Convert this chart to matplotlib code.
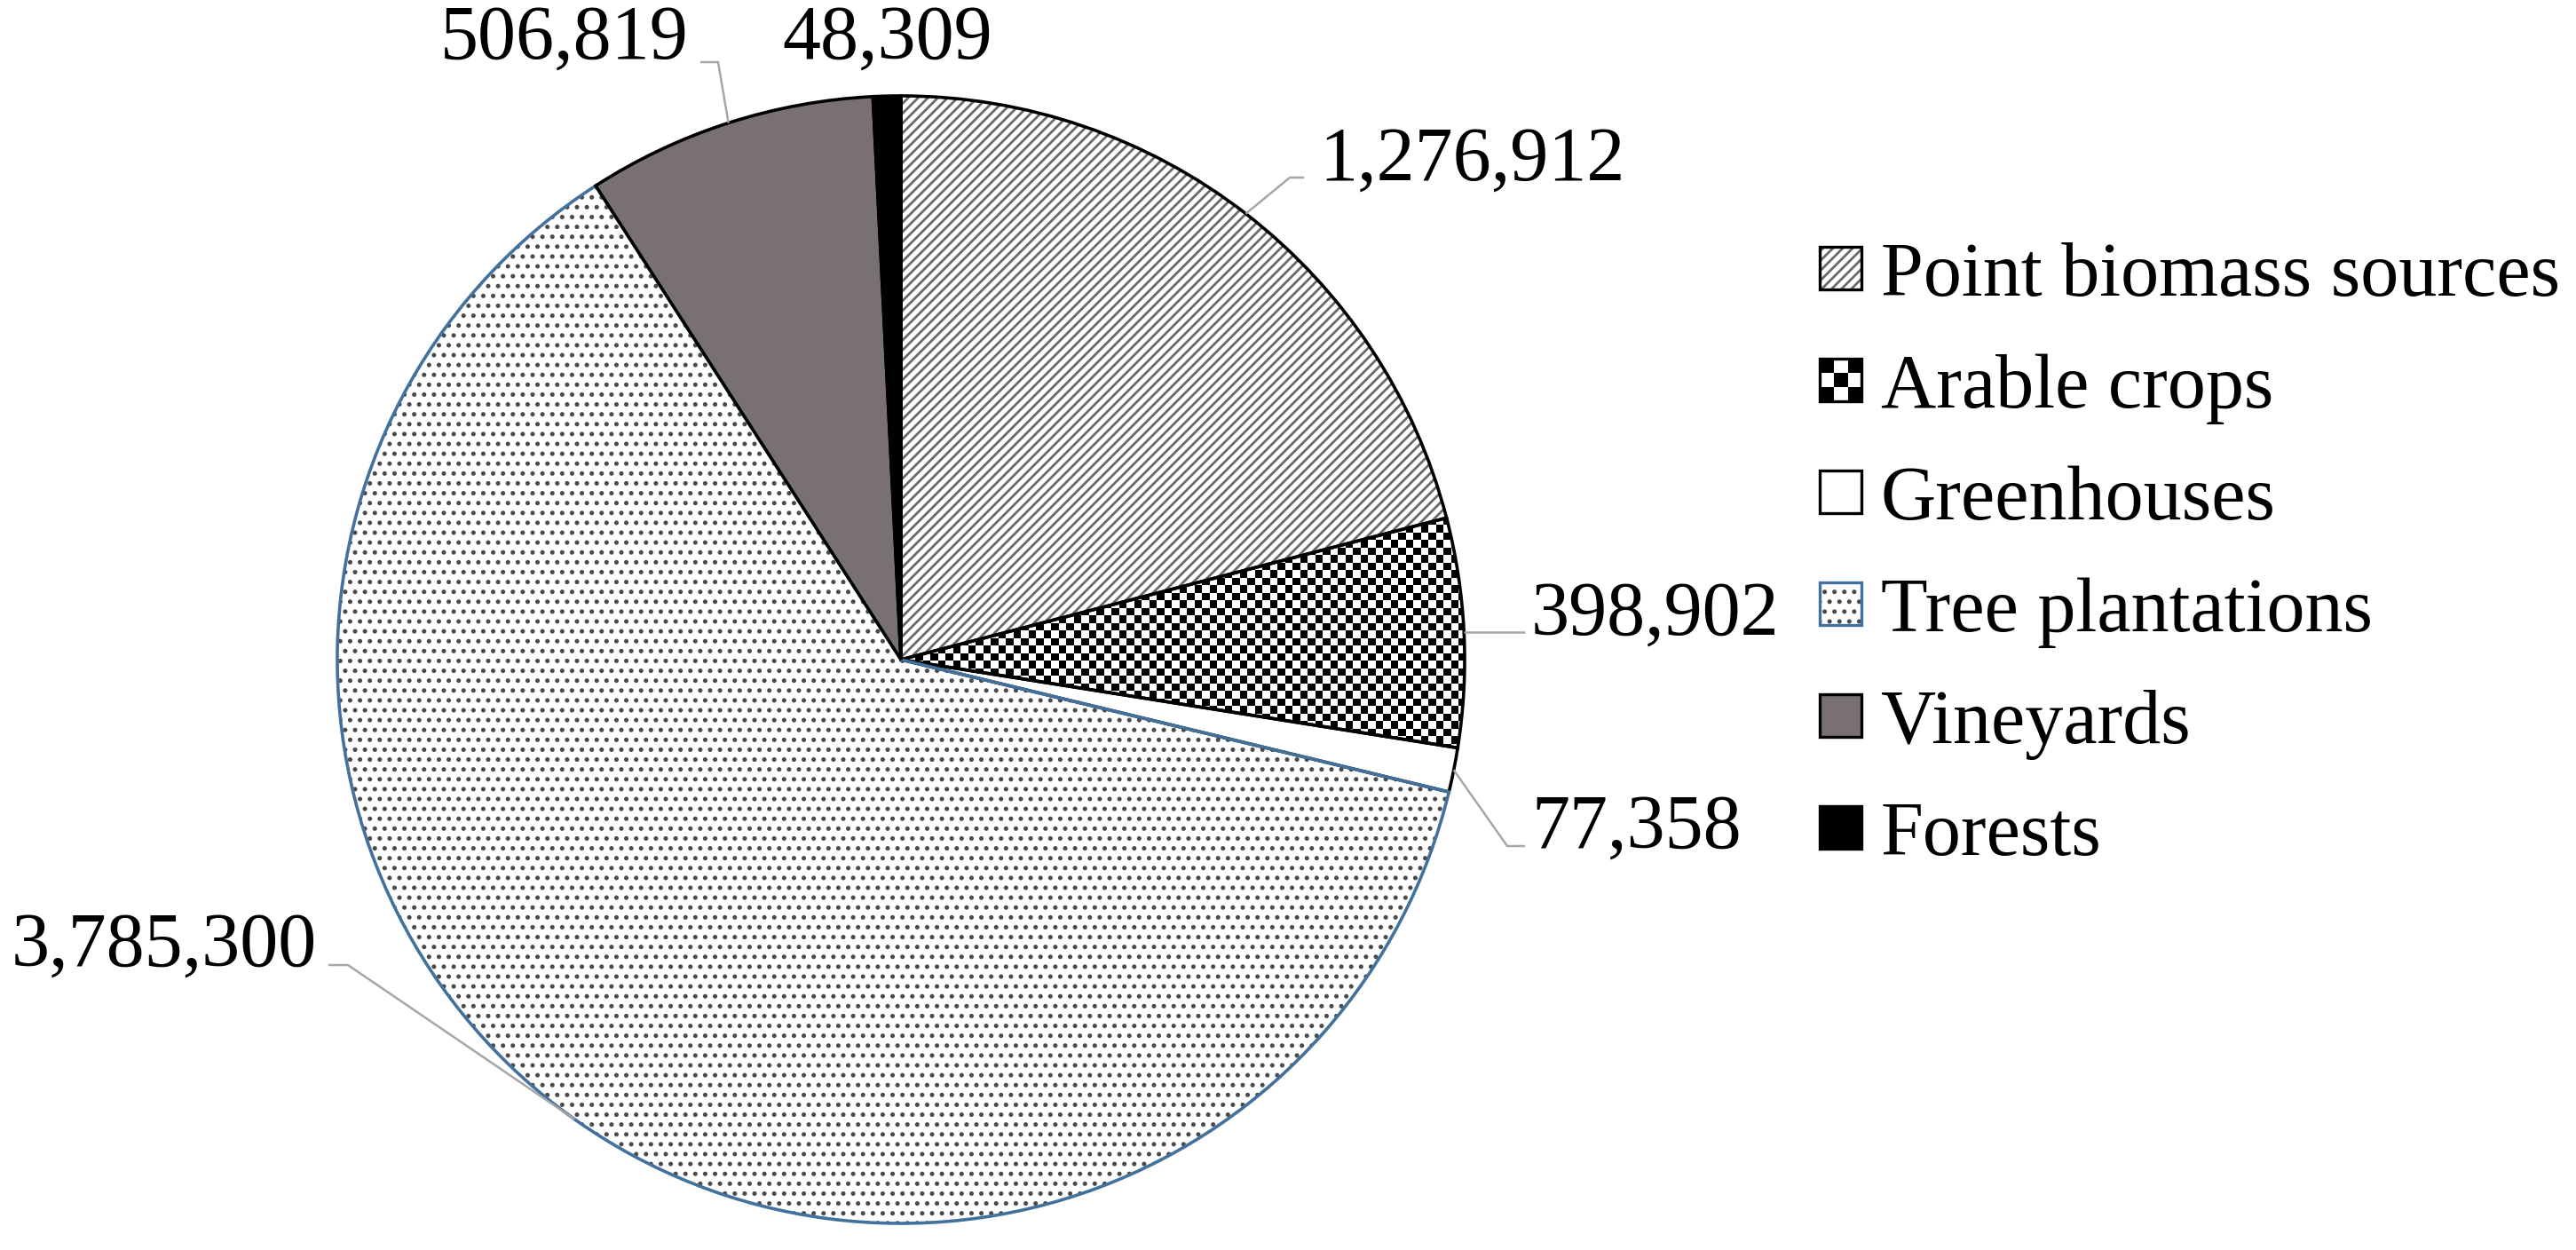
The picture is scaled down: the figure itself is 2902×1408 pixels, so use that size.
import numpy as np
import matplotlib
matplotlib.use("Agg")
import matplotlib.pyplot as plt
from matplotlib.patches import Rectangle, Patch
from matplotlib.legend_handler import HandlerBase

# ---------------- data ----------------
categories = ["Point biomass sources", "Arable crops", "Greenhouses",
              "Tree plantations", "Vineyards", "Forests"]
values = [1276912, 398902, 77358, 3785300, 506819, 48309]
value_labels = ["1,276,912", "398,902", "77,358", "3,785,300", "506,819", "48,309"]

# ---------------- styles ----------------
face_colors = ["white", "white", "white", "white", "#787072", "black"]
hatch_colors = ["#6a6a6a", "white", "white", "#4a4a4a", "#787072", "black"]
hatches = ["//////", None, None, "...", None, None]
edge_colors = ["black", "black", "black", "#41719C", "black", "black"]
checker_index = 1  # arable crops get a checkerboard fill

plt.rcParams["font.family"] = ["Liberation Serif", "DejaVu Serif"]
plt.rcParams["hatch.linewidth"] = 1.0

W, H, DPI = 2902, 1408, 200
fig = plt.figure(figsize=(W / DPI, H / DPI), dpi=DPI)
ax = fig.add_axes([0, 0, 1, 1])

CX, CY, R = 1015, 743, 635  # pie centre / radius in pixels


def px(x, y):
    return ((x - CX) / R, (CY - y) / R)


# fill layer (hatch colour comes from edge colour, so no outline here)
fill_wedges, _ = ax.pie(values, startangle=90, counterclock=False,
                        colors=face_colors, wedgeprops=dict(linewidth=0))
for w, hc, h in zip(fill_wedges, hatch_colors, hatches):
    w.set_edgecolor(hc)
    w.set_linewidth(0)
    w.set_zorder(1)
    if h:
        w.set_hatch(h)

# checkerboard texture clipped to the arable-crops wedge
sq = 8.5 / R
n = int(np.ceil(2.2 / sq))
board = (np.add.outer(np.arange(n), np.arange(n)) % 2).astype(float)
im = ax.imshow(board, cmap="gray", vmin=0, vmax=1, interpolation="nearest",
               extent=(-1.1, -1.1 + n * sq, -1.1, -1.1 + n * sq), zorder=1.5)
im.set_clip_path(fill_wedges[checker_index])

# outline layer
line_wedges, _ = ax.pie(values, startangle=90, counterclock=False,
                        wedgeprops=dict(fill=False, linewidth=1.3))
for w, ec in zip(line_wedges, edge_colors):
    w.set_edgecolor(ec)
    w.set_zorder(2)

# ---------------- data labels with leader lines ----------------
label_pos = [(1486, 203, "left"), (1725, 715, "left"), (1725, 955, "left"),
             (357, 1088, "right"), (776, 66, "right"), (1000, 66, "center")]
elbows = [[(1453, 200), (1469, 200)], [(1718, None)], [(1698, 953), (1718, 953)],
          [(392, 1087), (370, 1087)], [(809, 70), (789, 70)], []]

for w, txt, (lx, ly, ha), elb in zip(line_wedges, value_labels, label_pos, elbows):
    mid = np.deg2rad((w.theta1 + w.theta2) / 2)
    x0, y0 = np.cos(mid), np.sin(mid)
    if elb:
        xs, ys = [x0], [y0]
        for ex, ey in elb:
            dx, dy = px(ex, ey if ey is not None else CY)
            xs.append(dx)
            ys.append(dy if ey is not None else y0)
        ax.plot(xs, ys, color="#a6a6a6", lw=0.9, zorder=3, solid_capstyle="butt")
    tx, ty = px(lx, ly)
    ax.text(tx, ty, txt, ha=ha, va="baseline", fontsize=31, color="black", zorder=4)

ax.set_xlim(-CX / R, (W - CX) / R)
ax.set_ylim((CY - H) / R, CY / R)
ax.set_aspect("auto")
ax.axis("off")


# ---------------- legend ----------------
class SwatchHandler(HandlerBase):
    def __init__(self, face, hatch, hcolor, edge, checker=False):
        super().__init__()
        self.face, self.hatch, self.hcolor, self.edge, self.checker = face, hatch, hcolor, edge, checker

    def create_artists(self, legend, orig_handle, xdescent, ydescent, width, height, fontsize, trans):
        s = min(width, height)
        x0 = -xdescent
        y0 = -ydescent + (height - s) / 2
        arts = [Rectangle((x0, y0), s, s, facecolor=self.face, edgecolor=self.hcolor,
                          hatch=self.hatch, lw=0, transform=trans)]
        if self.checker:
            k = 3
            for i in range(k):
                for j in range(k):
                    if (i + j) % 2 == 0:
                        arts.append(Rectangle((x0 + i * s / k, y0 + j * s / k), s / k, s / k,
                                              facecolor="black", lw=0, transform=trans))
        arts.append(Rectangle((x0, y0), s, s, fill=False, edgecolor=self.edge, lw=1.2,
                              transform=trans))
        return arts


handles = [Patch(label=c) for c in categories]
hmap = {h: SwatchHandler(face_colors[i], hatches[i], hatch_colors[i], edge_colors[i],
                         checker=(i == checker_index))
        for i, h in enumerate(handles)}
fig.legend(handles=handles, labels=categories, handler_map=hmap,
           loc="upper left", bbox_to_anchor=(2050 / W, 1 - 272 / H),
           frameon=False, fontsize=31, handlelength=0.55, handleheight=0.55,
           handletextpad=0.25, labelspacing=0.54, borderpad=0, borderaxespad=0)

fig.savefig("out.png", dpi=DPI, facecolor="white")
